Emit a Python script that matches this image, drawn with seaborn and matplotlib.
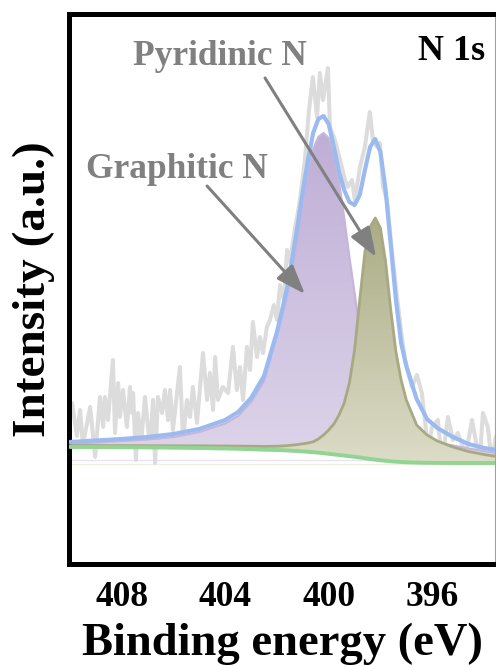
import numpy as np
import matplotlib
matplotlib.use("Agg")
import matplotlib.pyplot as plt
import seaborn as sns
from matplotlib.colors import LinearSegmentedColormap

# ---------------- data (binding energy in eV, intensity in a.u.) ----------------
energy = [410.0, 409.0, 408.0, 407.0, 406.0, 405.0, 404.0, 403.5, 403.0, 402.5,
          402.0, 401.8, 401.6, 401.4, 401.2, 401.0, 400.8, 400.6, 400.4, 400.2,
          400.0, 399.8, 399.6, 399.4, 399.2, 399.0, 398.8, 398.6, 398.4, 398.2,
          398.0, 397.8, 397.6, 397.4, 397.2, 397.0, 396.6, 396.2, 395.8, 395.2,
          394.6, 394.0, 393.5]
background = [113, 113, 112.8, 112.6, 112.3, 112, 111.5, 111.2, 110.8, 110.3,
              110, 109.8, 109.5, 109.2, 109, 108.6, 108.2, 107.8, 107.3, 106.8,
              106.2, 105.6, 105, 104.4, 103.8, 103.2, 102.5, 101.8, 101, 100.3,
              99.7, 99.2, 98.7, 98.3, 98, 97.7, 97.4, 97.2, 97.1, 97,
              97, 97, 97]
graphitic_n = [116, 117.5, 119, 120.5, 123, 128, 136.5, 144, 158, 179,
               225, 245, 265, 292, 322, 356, 390, 411, 423, 427,
               422, 406, 378, 342, 303, 267, 230, 196, 167, 148,
               137, 131, 127, 125, 123, 122, 120.5, 119, 117.5, 114.5,
               111.5, 109, 107]
pyridinic_n = [114.5, 114.5, 114.4, 114.3, 114.2, 114.1, 114, 113.9, 113.8, 113.6,
               113.8, 114, 114.4, 114.9, 115.5, 116.2, 117, 118.2, 121, 125,
               130, 136, 145, 157, 177, 210, 260, 308, 333, 342,
               332, 298, 250, 208, 180, 160, 135, 125, 119, 113,
               108.5, 105.5, 103.5]
envelope = [118, 119.5, 121, 123, 126, 131, 140, 148, 162, 184,
            228, 250, 273, 303, 335, 369, 400, 427, 441, 444,
            436, 413, 388, 370, 358, 355, 365, 390, 413, 421,
            408, 370, 315, 260, 217, 194, 161, 141, 132, 123,
            116, 112, 110]

raw_energy = [409.92, 409.73, 409.61, 409.50, 409.22, 409.03, 408.84, 408.72, 408.65, 408.53,
              408.34, 408.26, 408.14, 408.07, 407.95, 407.80, 407.68, 407.60, 407.56, 407.45,
              407.37, 407.25, 407.10, 406.91, 406.79, 406.71, 406.60, 406.44, 406.33, 406.21,
              406.13, 406.02, 405.75, 405.63, 405.48, 405.36, 405.25, 405.09, 404.86, 404.70,
              404.59, 404.47, 404.39, 404.28, 404.09, 403.89, 403.70, 403.55, 403.43, 403.31,
              403.16, 403.04, 402.93, 402.77, 402.66, 402.54, 402.39, 402.27, 402.12, 402.00,
              401.88, 401.73, 401.61, 401.50, 401.30, 401.11, 400.92, 400.76, 400.61, 400.45,
              400.34, 400.22, 400.03, 399.95, 399.76, 399.56, 399.37, 399.26, 399.10, 398.99,
              398.79, 398.60, 398.41, 398.29, 398.14, 398.02, 397.90, 397.75, 397.56, 397.36,
              397.17, 397.05, 396.78, 396.59, 396.40, 396.28, 396.16, 396.01, 395.78, 395.62,
              395.39, 395.20, 395.01, 394.70, 394.46, 394.27, 394.16, 394.04, 393.85, 393.69,
              393.54]
raw_counts = [157, 124, 150, 115, 153, 103, 163, 133, 163, 140,
              200, 127, 177, 143, 170, 133, 173, 147, 167, 100,
              147, 117, 163, 113, 160, 97, 163, 147, 170, 140,
              170, 130, 193, 120, 160, 143, 173, 137, 207, 160,
              187, 150, 203, 160, 173, 167, 213, 170, 193, 160,
              213, 190, 238, 203, 223, 207, 233, 240, 255, 240,
              275, 260, 310, 298, 332, 360, 400, 450, 483, 443,
              487, 460, 492, 433, 420, 400, 380, 373, 380, 360,
              393, 413, 448, 420, 413, 417, 373, 360, 310, 263,
              223, 200, 173, 185, 167, 140, 110, 133, 140, 98,
              143, 120, 127, 105, 140, 113, 100, 147, 133, 98,
              123]

major_ticks = [408, 404, 400, 396]
minor_ticks = [410, 406, 402, 398, 394]
tick_labels = ["408", "404", "400", "396"]

x_label = "Binding energy (eV)"
y_label = "Intensity (a.u.)"
peak_names = ["Pyridinic N", "Graphitic N"]
region_label = "N 1s"

# ---------------- style ----------------
sns.set_style("white")
plt.rcParams["font.family"] = ["Liberation Serif", "DejaVu Serif"]
plt.rcParams["font.weight"] = "bold"
plt.rcParams["text.color"] = "black"
plt.rcParams["axes.labelcolor"] = "black"
plt.rcParams["xtick.color"] = "black"
plt.rcParams["ytick.color"] = "black"

fig = plt.figure(figsize=(4.96, 6.66), dpi=100)
ax = fig.add_axes([69.2 / 496, 1 - 564 / 666, (495.3 - 69.2) / 496, (564 - 14.2) / 666])

E = np.array(energy)
bg = np.array(background)


def gradient_fill(x, y, base, top_color, bottom_color, z):
    poly = ax.fill_between(x, y, base, facecolor="none", edgecolor="none", zorder=z)
    cmap = LinearSegmentedColormap.from_list("g", [bottom_color, top_color])
    grad = np.linspace(0, 1, 256).reshape(-1, 1)
    im = ax.imshow(grad, cmap=cmap, aspect="auto", origin="lower",
                   extent=[x.max(), x.min(), base.min(), np.max(y)],
                   zorder=z, interpolation="bilinear")
    im.set_clip_path(poly.get_paths()[0], transform=ax.transData)


# faint reference lines
ax.axhline(100, color="#e6e2f3", lw=0.9, zorder=0.5)
ax.axhline(96, color="#efefe3", lw=0.9, zorder=0.5)

# raw spectrum
sns.lineplot(x=raw_energy, y=raw_counts, ax=ax, color="#dcdcdc", lw=2.9,
             sort=False, estimator=None, zorder=1)

# graphitic N component
gradient_fill(E, np.array(graphitic_n), bg, "#bfaed6", "#ddd5ea", 2)
sns.lineplot(x=energy, y=graphitic_n, ax=ax, color="#c6b6da", lw=1.6,
             sort=False, estimator=None, zorder=2.1)

# pyridinic N component
gradient_fill(E, np.array(pyridinic_n), bg, "#aaac84", "#dcdcc8", 3)
sns.lineplot(x=energy, y=pyridinic_n, ax=ax, color="#a8a983", lw=2.0,
             sort=False, estimator=None, zorder=3.1)

# background
sns.lineplot(x=energy, y=background, ax=ax, color="#92d492", lw=2.8,
             sort=False, estimator=None, zorder=4)

# envelope
sns.lineplot(x=energy, y=envelope, ax=ax, color="#9bbbf0", lw=3.0,
             sort=False, estimator=None, zorder=5)

# annotations
gray = "#808080"
arrow_kw = dict(arrowstyle="-|>,head_length=0.9,head_width=0.33", color=gray, lw=2.2,
                mutation_scale=20, shrinkA=0, shrinkB=0)
ax.annotate("", xy=(398.17, 303), xytext=(402.46, 482), arrowprops=arrow_kw, zorder=6)
ax.annotate("", xy=(400.92, 266), xytext=(404.70, 374), arrowprops=arrow_kw, zorder=6)
ax.text(404.20, 495, peak_names[0], color=gray, fontsize=25.5, fontweight="bold",
        ha="center", va="baseline", zorder=6)
ax.text(405.88, 382, peak_names[1], color=gray, fontsize=25.5, fontweight="bold",
        ha="center", va="baseline", zorder=6)
ax.text(395.26, 500, region_label, color="black", fontsize=26, fontweight="bold",
        ha="center", va="baseline", zorder=6)

# axes
ax.set_xlim(410.03, 393.56)
ax.set_ylim(-4, 545.8)
ax.set_yticks([])
ax.set_xticks(major_ticks)
ax.set_xticklabels(tick_labels)
ax.set_xticks(minor_ticks, minor=True)
ax.tick_params(axis="x", which="major", direction="out", length=4, width=2.2,
               labelsize=25.5, pad=8, colors="black", labelcolor="black")
ax.tick_params(axis="x", which="minor", direction="out", length=3, width=2.2, colors="black")
for lab in ax.get_xticklabels():
    lab.set_fontweight("bold")
    lab.set_color("black")

for side in ["left", "top", "bottom"]:
    ax.spines[side].set_linewidth(3.6)
    ax.spines[side].set_color("black")
ax.spines["right"].set_linewidth(0.8)
ax.spines["right"].set_color("#a0a0a0")

ax.set_xlabel(x_label, fontsize=33.5, fontweight="bold", color="black")
ax.set_ylabel(y_label, fontsize=34, fontweight="bold", color="black")
ax.xaxis.set_label_coords(0.5, -0.107)
ax.yaxis.set_label_coords(-0.033, 0.5)

fig.savefig("out.png", dpi=100)
